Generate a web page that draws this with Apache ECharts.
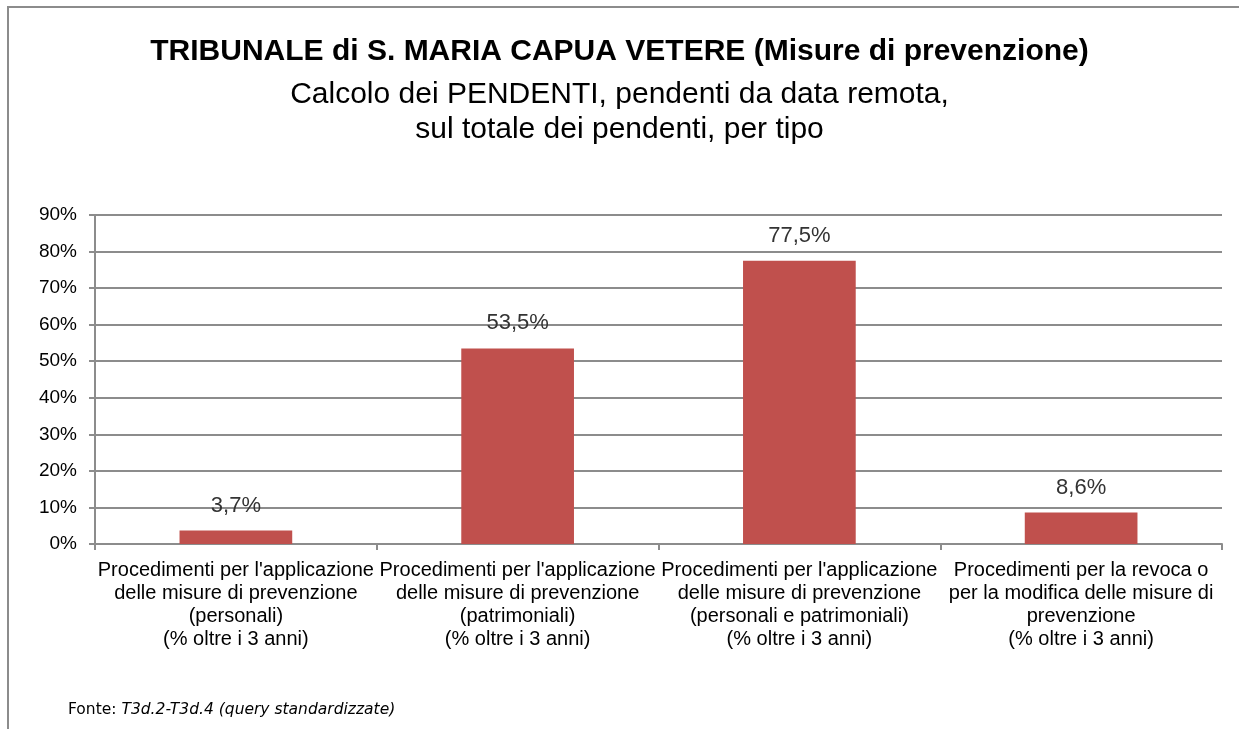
<!DOCTYPE html>
<html>
<head>
<meta charset="utf-8">
<script src="https://cdn.jsdelivr.net/npm/echarts@6/dist/echarts.min.js"></script>
<style>
  html, body { margin: 0; padding: 0; background: #fff; }
  #chart { width: 1239px; height: 729px; }
</style>
</head>
<body>
<div id="chart"></div>
<script>
var categories = [
  "Procedimenti per l'applicazione\ndelle misure di prevenzione\n(personali)\n(% oltre i 3 anni)",
  "Procedimenti per l'applicazione\ndelle misure di prevenzione\n(patrimoniali)\n(% oltre i 3 anni)",
  "Procedimenti per l'applicazione\ndelle misure di prevenzione\n(personali e patrimoniali)\n(% oltre i 3 anni)",
  "Procedimenti per la revoca o\nper la modifica delle misure di\nprevenzione\n(% oltre i 3 anni)"
];
var values = [3.7, 53.5, 77.5, 8.6];

var font = "'Liberation Sans', Arial, sans-serif";
var chart = echarts.init(document.getElementById("chart"));

var option = {
  backgroundColor: "#fff",
  animation: false,
  title: [
    {
      text: "TRIBUNALE di S. MARIA CAPUA VETERE (Misure di prevenzione)",
      left: "center",
      top: 31,
      textStyle: { fontFamily: font, fontSize: 30, fontWeight: "bold", color: "#000", lineHeight: 32 }
    },
    {
      text: "Calcolo dei PENDENTI, pendenti da data remota,\nsul totale dei pendenti, per tipo",
      left: "center",
      top: 72,
      textStyle: { fontFamily: font, fontSize: 30, fontWeight: "normal", color: "#000", lineHeight: 35 }
    }
  ],
  graphic: [
    {
      type: "rect",
      shape: { x: 8, y: 7, width: 1300, height: 800 },
      style: { fill: "none", stroke: "#8c8c8c", lineWidth: 2 },
      silent: true
    },
    {
      type: "text",
      left: 68,
      top: 702,
      style: {
        text: "{a|Fonte: }{b|T3d.2-T3d.4 (query standardizzate)}",
        rich: {
          a: { fontFamily: "'DejaVu Sans', Verdana, sans-serif", fontSize: 15.5, fill: "#000" },
          b: { fontFamily: "'DejaVu Sans', Verdana, sans-serif", fontSize: 15.5, fontStyle: "italic", fill: "#000" }
        }
      }
    }
  ],
  grid: { left: 95, right: 17, top: 215, bottom: 185, containLabel: false },
  xAxis: {
    type: "category",
    data: categories,
    axisLine: { lineStyle: { color: "#8c8c8c", width: 2 } },
    axisTick: { show: true, length: 6, lineStyle: { color: "#8c8c8c", width: 2 } },
    axisLabel: {
      interval: 0,
      margin: 15,
      fontFamily: font,
      fontSize: 20,
      lineHeight: 23,
      color: "#000"
    }
  },
  yAxis: {
    type: "value",
    min: 0,
    max: 90,
    interval: 10,
    axisLine: { show: true, lineStyle: { color: "#8c8c8c", width: 2 } },
    axisTick: { show: true, length: 6, lineStyle: { color: "#8c8c8c", width: 2 } },
    splitLine: { lineStyle: { color: "#8c8c8c", width: 2 } },
    axisLabel: {
      formatter: "{value}%",
      margin: 18,
      fontFamily: font,
      fontSize: 19,
      color: "#000"
    }
  },
  series: [
    {
      type: "bar",
      data: values,
      barWidth: "40%",
      itemStyle: { color: "#C0504D" },
      label: {
        show: true,
        position: "top",
        distance: 14,
        fontFamily: font,
        fontSize: 22,
        color: "#333",
        formatter: function (p) {
          return p.value.toFixed(1).replace(".", ",") + "%";
        }
      }
    }
  ]
};

chart.setOption(option);
</script>
</body>
</html>
